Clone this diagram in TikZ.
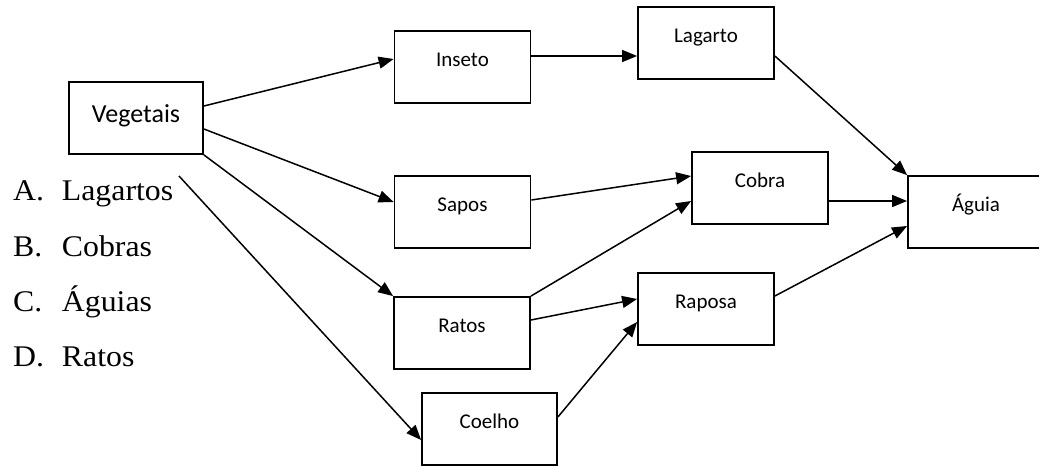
\documentclass[tikz,border=0pt]{standalone}
\usepackage{fontspec}
\setmainfont{Liberation Serif}
\newfontfamily\boxfont{Carlito}
\usetikzlibrary{arrows.meta}
\newcommand{\listline}[2]{\scalebox{1.06}[1]{\makebox[46pt][l]{#1}#2}}
\tikzset{
  box/.style={draw, line width=1.8pt, minimum width=136pt, minimum height=72pt,
    inner sep=0pt, text height=8pt, text depth=10pt,
    font=\boxfont\fontsize{21}{24}\selectfont},
  conn/.style={line width=1.5pt, -{Triangle[length=15pt,width=12pt]}},
  listitem/.style={anchor=base west, inner sep=0pt,
    font=\fontsize{30}{34}\selectfont}
}
\begin{document}
\begin{tikzpicture}[x=1pt,y=-1pt]
\useasboundingbox (0,0) rectangle (1039,466);
\clip (0,0) rectangle (1039,466);
% boxes
\node[box, minimum width=134pt, text height=12pt, text depth=4pt,
  font=\boxfont\fontsize{26}{30}\selectfont] (veg) at (136,118) {Vegetais};
\node[box] (ins) at (462.5,67) {Inseto};
\node[box] (lag) at (706,43) {Lagarto};
\node[box] (sap) at (462.5,212) {Sapos};
\node[box] (cob) at (760,188) {Cobra};
\node[box] (agu) at (976,212) {Águia};
\node[box] (rat) at (462,333) {Ratos};
\node[box] (rap) at (706,309) {Raposa};
\node[box, minimum width=135pt] (coe) at (489.5,429) {Coelho};
\coordinate (vfree) at (179,176);
% connectors
\draw[conn] ([yshift=12pt]veg.east) -- ([yshift=8pt]ins.west);
\draw[conn] ([yshift=-11pt]veg.east) -- ([yshift=10pt]sap.west);
\draw[conn] (veg.south east) -- (rat.north west);
\draw[conn] (vfree) -- ([yshift=-11pt]coe.west);
\draw[conn] ([yshift=11pt]ins.east) -- ([yshift=-13pt]lag.west);
\draw[conn] ([yshift=-13pt]lag.east) -- (agu.north west);
\draw[conn] ([yshift=12pt]sap.east) -- ([yshift=12pt]cob.west);
\draw[conn] ([yshift=-13pt]cob.east) -- ([yshift=11pt]agu.west);
\draw[conn] (rat.north east) -- ([yshift=-13pt]cob.west);
\draw[conn] ([yshift=13pt]rat.east) -- ([yshift=10pt]rap.west);
\draw[conn] ([yshift=12pt]coe.east) -- ([yshift=-13pt]rap.west);
\draw[conn] ([yshift=13pt]rap.east) -- ([yshift=-14pt]agu.west);
% answer list
\node[listitem] (la) at (13,200) {\listline{A.}{Lagartos}};
\node[listitem] (lb) at (13,256) {\listline{B.}{Cobras}};
\node[listitem] (lc) at (13,311) {\listline{C.}{Águias}};
\node[listitem] (ld) at (13,366) {\listline{D.}{Ratos}};
\end{tikzpicture}
\end{document}
